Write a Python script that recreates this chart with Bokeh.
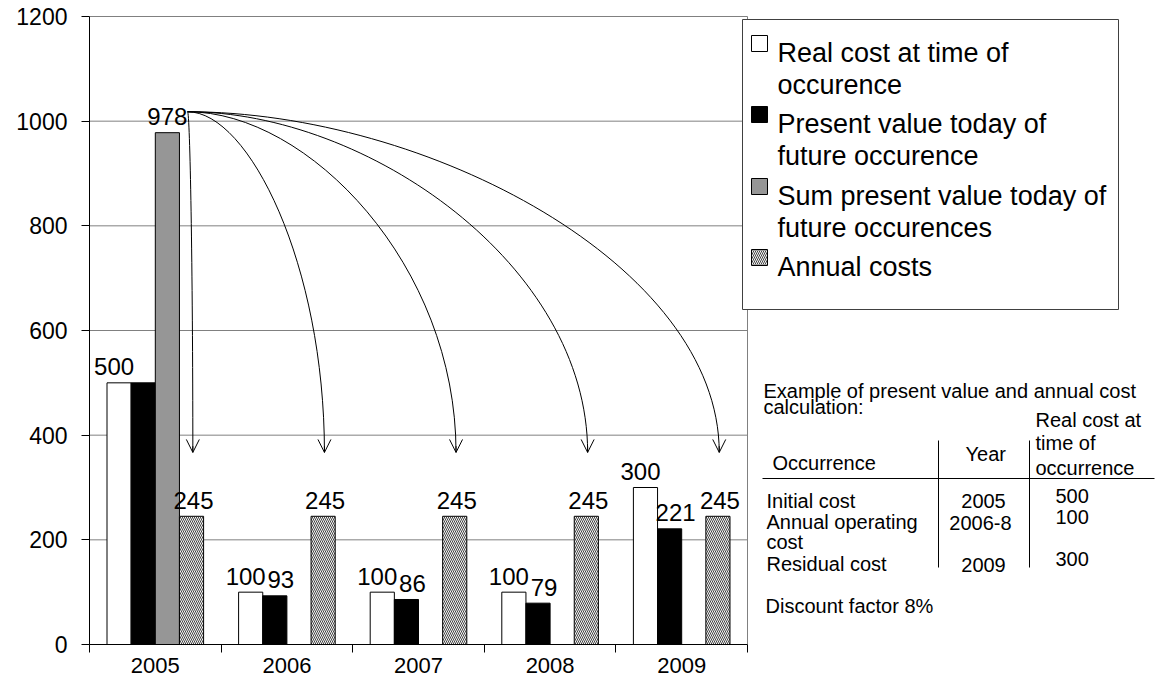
import numpy as np
from bokeh.plotting import figure
from bokeh.models import (Range1d, FixedTicker, CustomJSTickFormatter, ColumnDataSource,
                          Arrow, OpenHead)
from bokeh.core.properties import value
from bokeh.embed import file_html
from bokeh.resources import INLINE

# ---------------- data ----------------
years = ["2005", "2006", "2007", "2008", "2009"]
real_cost = [500, 100, 100, 100, 300]
present_value = [500, 93, 86, 79, 221]
sum_present_value = [978, 0, 0, 0, 0]
annual_cost = [245, 245, 245, 245, 245]
y_ticks = [0, 200, 400, 600, 800, 1000, 1200]

legend_lines = [
    ["Real cost at time of", "occurence"],
    ["Present value today of", "future occurence"],
    ["Sum present value today of", "future occurences"],
    ["Annual costs"],
]

table_title = ["Example of present value and annual cost", "calculation:"]
table_col_heads = ["Occurrence", "Year", "Real cost at", "time of", "occurrence"]
table_items = ["Initial cost", "Annual operating", "cost", "Residual cost"]
table_years = ["2005", "2006-8", "2009"]
table_costs = [500, 100, 300]
discount_note = "Discount factor 8%"

# ---------------- geometry / styles ----------------
FONT = "Liberation Sans"
GRAY = "#969696"
GRID = "#808080"
HATCH = "\\"
HATCH_STYLE = dict(fill_color="#f4f4f4", hatch_pattern=HATCH, hatch_color="#454545",
                   hatch_scale=4, hatch_weight=1)
n = len(years)
Y_MAX = y_ticks[-1]

W, H = 1160, 677
LEFT, TOP, BOTTOM, RIGHT = 89, 10, 33, 0
FRAME_W = W - LEFT - RIGHT
FRAME_H = H - TOP - BOTTOM
CAT_PX = 131.6                      # pixels per category
Y_PX = 628.0 / Y_MAX                # pixels per value unit
x_end = FRAME_W / CAT_PX
y_end = FRAME_H / Y_PX

# page pixel -> data helpers (for the side legend / note only)
ORIGIN_X = LEFT
ORIGIN_Y = TOP + FRAME_H
def X(px):
    return (px - ORIGIN_X) / CAT_PX
def Y(py):
    return (ORIGIN_Y - py) / Y_PX

centers = np.arange(n) + 0.5
BW = 0.1835
offsets = [-1.5 * BW, -0.5 * BW, 0.5 * BW, 1.5 * BW]

p = figure(width=W, height=H, x_range=Range1d(0, x_end), y_range=Range1d(0, y_end),
           output_backend="svg", toolbar_location=None,
           min_border_left=LEFT, min_border_top=TOP, min_border_bottom=BOTTOM,
           min_border_right=RIGHT)
p.background_fill_color = "white"
p.border_fill_color = "white"
p.outline_line_color = None
p.xgrid.visible = False
p.ygrid.visible = False

p.yaxis.ticker = FixedTicker(ticks=y_ticks)
p.yaxis.bounds = (0, Y_MAX)
p.yaxis.minor_tick_line_color = None
p.yaxis.major_tick_out = 8
p.yaxis.major_tick_in = 0
p.yaxis.major_tick_line_color = "black"
p.yaxis.axis_line_color = "black"
p.yaxis.major_label_text_font = FONT
p.yaxis.major_label_text_font_size = "23px"
p.yaxis.major_label_text_color = "black"
p.yaxis.major_label_standoff = 14

p.xaxis.ticker = FixedTicker(ticks=list(centers), minor_ticks=list(range(n + 1)))
p.xaxis.bounds = (0, n)
p.xaxis.formatter = CustomJSTickFormatter(args=dict(labels=years),
                                          code="return labels[Math.floor(tick)];")
p.xaxis.major_tick_line_color = None
p.xaxis.major_tick_out = 0
p.xaxis.major_tick_in = 0
p.xaxis.minor_tick_out = 8
p.xaxis.minor_tick_in = 0
p.xaxis.minor_tick_line_color = "black"
p.xaxis.axis_line_color = "black"
p.xaxis.major_label_text_font = FONT
p.xaxis.major_label_text_font_size = "22px"
p.xaxis.major_label_text_color = "black"
p.xaxis.major_label_standoff = 5

# ---------------- plot-area grid & border ----------------
grid_y = [t for t in y_ticks if t > 0]
p.segment(x0=[0] * len(grid_y), y0=grid_y, x1=[n] * len(grid_y), y1=grid_y,
          line_color=GRID, line_width=1)
p.segment(x0=[n], y0=[0], x1=[n], y1=[Y_MAX], line_color=GRID, line_width=1)

# ---------------- bars ----------------
p.vbar(x=centers + offsets[0], top=real_cost, width=BW,
       fill_color="white", line_color="black", line_width=1)
p.vbar(x=centers + offsets[1], top=present_value, width=BW,
       fill_color="black", line_color="black", line_width=1)
spv = np.array(sum_present_value)
mask = spv > 0
p.vbar(x=(centers + offsets[2])[mask], top=spv[mask], width=BW,
       fill_color=GRAY, line_color="black", line_width=1)
p.vbar(x=centers + offsets[3], top=annual_cost, width=BW,
       line_color="black", line_width=1, **HATCH_STYLE)

# ---------------- value labels ----------------
def add_labels(xs, ys, texts, dx):
    p.text(x=list(xs), y=list(ys), text=list(texts), x_offset=dx, y_offset=-16,
           text_align="center", text_baseline="alphabetic",
           text_font=value(FONT), text_font_size="24px", text_color="black")

add_labels(centers + offsets[0], real_cost, [str(v) for v in real_cost], -5)
add_labels(centers + offsets[1], present_value,
           [str(v) if v != r else "" for v, r in zip(present_value, real_cost)], 6)
add_labels((centers + offsets[2])[mask], spv[mask], [str(v) for v in spv[mask]], 0)
add_labels(centers + offsets[3], annual_cost, [str(v) for v in annual_cost], 2)

# ---------------- discounting arrows ----------------
sx = centers[0] + offsets[3] - 0.03
sy = sum_present_value[0] + 40
ex = centers + offsets[3] + 0.01
ey = np.array(annual_cost) + 122.0
KX, KY = 0.45, 0.55
curves = ColumnDataSource(dict(
    x0=[sx] * n, y0=[sy] * n, x1=list(ex), y1=list(ey),
    cx0=list(sx + KX * (ex - sx)), cy0=[sy] * n,
    cx1=list(ex), cy1=list(ey + KY * (sy - ey)),
))
p.bezier(x0="x0", y0="y0", x1="x1", y1="y1", cx0="cx0", cy0="cy0", cx1="cx1", cy1="cy1",
         source=curves, line_color="black", line_width=1)
heads = ColumnDataSource(dict(xs=list(ex), ys=list(ey + 12), xe=list(ex), ye=list(ey)))
p.add_layout(Arrow(end=OpenHead(size=13, line_color="black", line_width=1),
                   x_start="xs", y_start="ys", x_end="xe", y_end="ye",
                   line_color="black", line_width=1, source=heads))

# ---------------- legend box (drawn) ----------------
p.quad(left=[X(742)], right=[X(1118)], top=[Y(19)], bottom=[Y(309)],
       fill_color="white", line_color="#404040", line_width=1)

first_baselines = [52, 123, 195, 266]
line_step = 32
sq_styles = [
    dict(fill_color="white"),
    dict(fill_color="black"),
    dict(fill_color=GRAY),
    HATCH_STYLE,
]
lx, ly, lt = [], [], []
for b, lines, st in zip(first_baselines, legend_lines, sq_styles):
    p.quad(left=[X(751)], right=[X(767)], top=[Y(b - 17)], bottom=[Y(b - 1)],
           line_color="black", line_width=1, **st)
    for k, t in enumerate(lines):
        lx.append(X(777))
        ly.append(Y(b + k * line_step))
        lt.append(t)
p.text(x=lx, y=ly, text=lt, text_align="left", text_baseline="alphabetic",
       text_font=value(FONT), text_font_size="27px", text_color="black")

# ---------------- example table (drawn) ----------------
TS = "20px"
def tx(xs, ys, texts, align="left"):
    p.text(x=[X(v) for v in xs], y=[Y(v) for v in ys], text=list(texts),
           text_align=align, text_baseline="alphabetic",
           text_font=value(FONT), text_font_size=TS, text_color="black")

tx([763, 763], [390, 406], table_title)
tx([772, 965, 1035, 1035, 1035], [462, 453, 419, 442, 467], table_col_heads)
tx([766, 766, 766, 766], [500, 521, 541, 563], table_items)
tx([983, 980, 983], [500, 522, 564], table_years, align="center")
tx([1055, 1055, 1055], [495, 516, 558], [str(c) for c in table_costs])
tx([765], [605], [discount_note])
p.segment(x0=[X(762), X(938), X(1029)], y0=[Y(478), Y(440), Y(440)],
          x1=[X(1154), X(938), X(1029)], y1=[Y(478), Y(567), Y(567)],
          line_color="black", line_width=1)

open("out.html", "w").write(file_html(p, INLINE))
